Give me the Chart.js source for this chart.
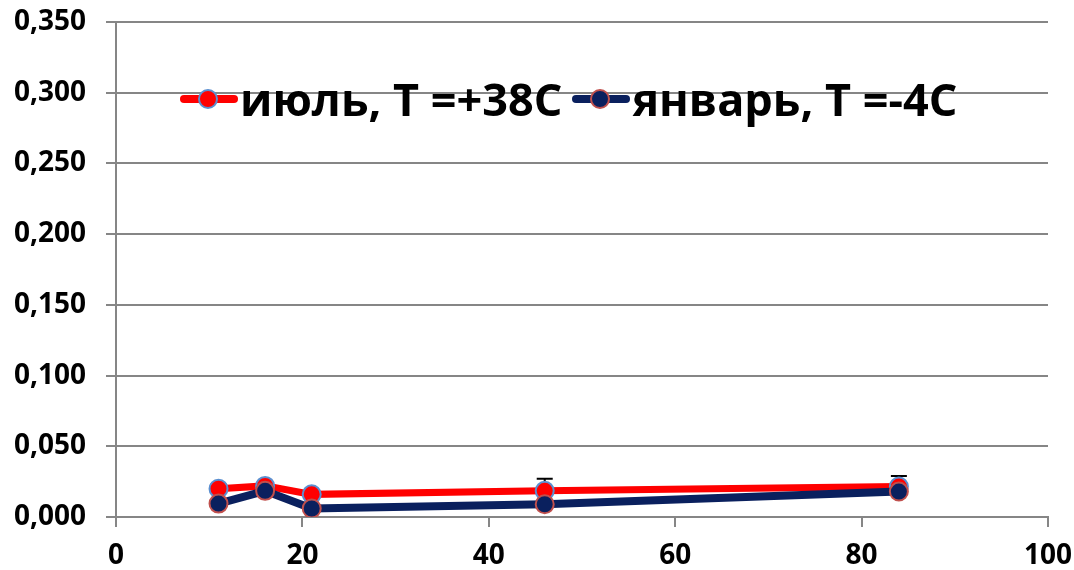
<!DOCTYPE html>
<html>
<head>
<meta charset="utf-8">
<script src="https://cdn.jsdelivr.net/npm/chart.js@4/dist/chart.umd.min.js"></script>
<style>
  html, body { margin: 0; padding: 0; background: #fff; }
  #wrap { position: relative; width: 1074px; height: 570px; }
  #legend { position: absolute; left: 180px; top: 68px; display: flex; align-items: center;
            font-family: "Open Sans", "Liberation Sans", sans-serif; font-weight: 700; font-size: 45px; color: #000; }
  .item { display: flex; align-items: center; margin-right: 10px; }
  .sw { position: relative; width: 58px; height: 20px; margin-right: 2px; }
  .sw .ln { position: absolute; left: 0; right: 0; top: 6px; height: 8px; border-radius: 4px; }
  .sw .dot { position: absolute; left: 18px; top: 0; width: 16px; height: 16px; border-radius: 50%; border: 2px solid; }
</style>
</head>
<body>
<div id="wrap">
  <canvas id="c" width="1074" height="570"></canvas>
  <div id="legend"></div>
</div>
<script>
// ── DADOS ────────────────────────────────────────────────
const X_VALUES = [11, 16, 21, 46, 84];
const JULY = [0.020, 0.022, 0.016, 0.0185, 0.0215];
const JANUARY = [0.0095, 0.0185, 0.006, 0.009, 0.018];
const JULY_ERR = [0.003, 0.002, 0.002, 0.0085, 0.0075];
const SERIES_LABELS = ['июль, Т =+38С', 'январь, Т =-4С'];

const RED = '#ff0000';
const NAVY = '#0a205e';
const FONT = '"Open Sans", "Liberation Sans", sans-serif';

// barras de erro desenhadas por baixo das linhas
const errorBars = {
  id: 'errorBars',
  beforeDatasetsDraw(chart) {
    const { ctx, scales: { x, y } } = chart;
    ctx.save();
    ctx.strokeStyle = '#000';
    ctx.lineWidth = 2;
    X_VALUES.forEach((xv, i) => {
      const px = x.getPixelForValue(xv);
      const y0 = y.getPixelForValue(JULY[i]);
      const y1 = y.getPixelForValue(JULY[i] + JULY_ERR[i]);
      ctx.beginPath();
      ctx.moveTo(px, y0); ctx.lineTo(px, y1);
      ctx.moveTo(px - 8, y1); ctx.lineTo(px + 8, y1);
      ctx.stroke();
    });
    ctx.restore();
  }
};

const chart = new Chart(document.getElementById('c'), {
  type: 'line',
  data: {
    datasets: [
      { label: SERIES_LABELS[0], data: X_VALUES.map((x, i) => ({ x, y: JULY[i] })),
        borderColor: RED, backgroundColor: RED, borderWidth: 7,
        pointRadius: 9, pointBorderWidth: 2, pointBorderColor: '#5b8fd0', pointBackgroundColor: RED, order: 1 },
      { label: SERIES_LABELS[1], data: X_VALUES.map((x, i) => ({ x, y: JANUARY[i] })),
        borderColor: NAVY, backgroundColor: NAVY, borderWidth: 8,
        pointRadius: 9, pointBorderWidth: 2, pointBorderColor: '#c0504d', pointBackgroundColor: NAVY, order: 0 }
    ]
  },
  options: {
    responsive: false,
    animation: false,
    layout: { padding: { top: 22, right: 26 } },
    plugins: { legend: { display: false }, tooltip: { enabled: false } },
    scales: {
      x: {
        type: 'linear', min: 0, max: 100,
        ticks: { stepSize: 20, color: '#000', font: { family: FONT, size: 28, weight: 'bold' }, padding: 12 },
        grid: { drawOnChartArea: false, drawTicks: true, tickLength: 10, color: '#868686', lineWidth: 2 },
        border: { color: '#868686', width: 2 },
        afterFit: s => { s.height = 53; s.paddingLeft = 0; s.paddingRight = 0; }
      },
      y: {
        min: 0, max: 0.35,
        ticks: { stepSize: 0.05, color: '#000', font: { family: FONT, size: 28, weight: 'bold' }, padding: 20,
                 callback: v => v.toFixed(3).replace('.', ',') },
        grid: { color: '#868686', lineWidth: 2, tickLength: 10 },
        border: { color: '#868686', width: 2 },
        afterFit: s => { s.width = 116; s.paddingTop = 0; s.paddingBottom = 0; }
      }
    }
  },
  plugins: [errorBars]
});

// legenda em HTML
const legend = document.getElementById('legend');
chart.data.datasets.forEach(ds => {
  const item = document.createElement('div');
  item.className = 'item';
  item.innerHTML = `<span class="sw"><span class="ln" style="background:${ds.borderColor}"></span>` +
    `<span class="dot" style="background:${ds.pointBackgroundColor};border-color:${ds.pointBorderColor}"></span></span>` +
    `<span>${ds.label}</span>`;
  legend.appendChild(item);
});
</script>
</body>
</html>
